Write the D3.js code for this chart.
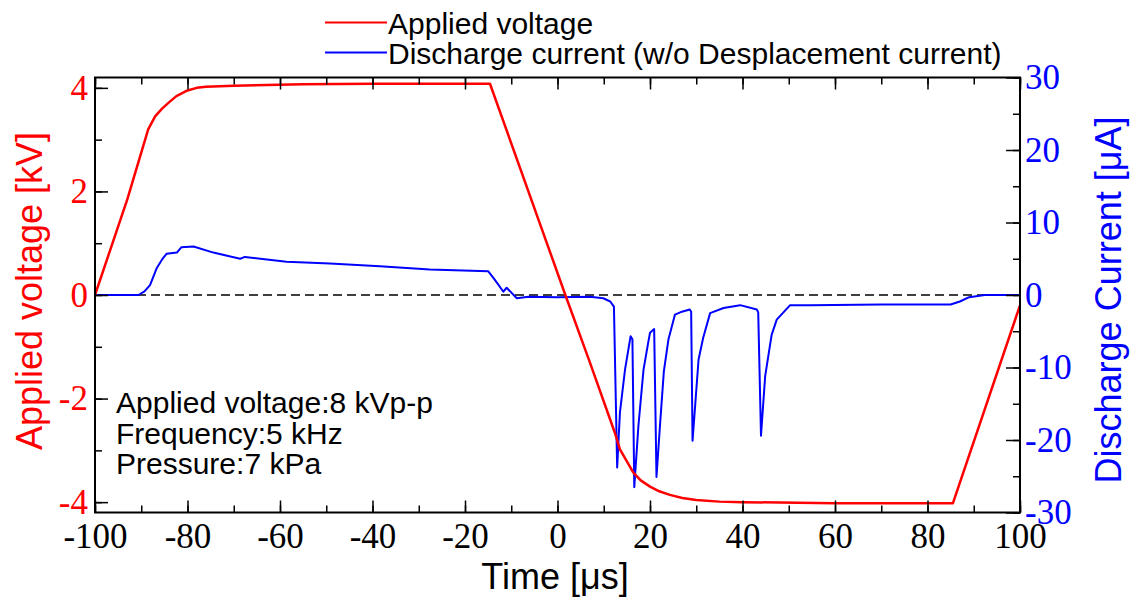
<!DOCTYPE html>
<html>
<head>
<meta charset="utf-8">
<script src="https://cdn.jsdelivr.net/npm/d3@7"></script>
<style>
  body { margin: 0; background: #fff; }
  svg { display: block; }
</style>
</head>
<body>
<svg id="chart"></svg>
<script>
// time axis ticks
const timeTicks = [-100, -80, -60, -40, -20, 0, 20, 40, 60, 80, 100];
const voltTicks = [-4, -2, 0, 2, 4];
const currTicks = [-30, -20, -10, 0, 10, 20, 30];

// applied voltage [kV] vs time [us]
const voltTime = [-100, -93, -90, -88.5, -87, -85.5, -84, -82.4, -80, -78, -76, -70, -55, -40, -14.6, 1.7, 7, 12.4, 13.5, 16.4, 18, 20, 22, 24.3, 27, 30, 35, 40, 60, 85.5, 100];
const voltValue = [0, 1.85, 2.75, 3.2, 3.45, 3.6, 3.72, 3.84, 3.95, 4.0, 4.02, 4.04, 4.07, 4.08, 4.08, 0, -1.3, -2.66, -2.98, -3.43, -3.58, -3.7, -3.79, -3.86, -3.92, -3.96, -3.99, -4.0, -4.02, -4.02, -0.2];

// discharge current [uA] vs time [us]
const currTime = [-100, -90.6, -89.3, -88.1, -86.7, -85.5, -84.5, -82.3, -81.3, -78.7, -74.4, -68.6, -67.6, -58.6, -49.2, -38.4, -27.6, -15, -13.5, -11.7, -11.0, -8.8, -6.3, 0, 7, 9.9, 11.4, 12.2, 12.9, 13.5, 14.6, 15.8, 16.2, 16.6, 17.5, 18.6, 19.6, 20.0, 20.9, 21.4, 22.2, 23.0, 24.0, 25.4, 26.9, 28.6, 28.9, 29.2, 30.5, 31.5, 33.0, 35.9, 39.5, 43.1, 43.4, 44.0, 44.9, 46.3, 47.4, 50.3, 54.6, 70, 85, 87, 89, 92.4, 100];
const currValue = [0, 0, 0.5, 1.37, 3.65, 4.9, 5.7, 5.85, 6.6, 6.7, 5.85, 5.0, 5.25, 4.57, 4.34, 3.97, 3.52, 3.29, 2.06, 0.45, 1.0, -0.45, -0.23, -0.3, -0.23, -0.45, -0.9, -1.6, -23.8, -16.2, -10.3, -5.7, -6.1, -26.5, -18, -10.3, -6.6, -5.2, -4.7, -25.1, -17.6, -10.5, -6.1, -2.7, -2.3, -2.0, -2.3, -20.1, -8.9, -5.9, -2.5, -1.8, -1.4, -2.0, -2.4, -19.4, -11.2, -5.5, -3.4, -1.4, -1.4, -1.3, -1.3, -0.9, -0.3, 0, 0];

const legendLabels = ["Applied voltage", "Discharge current (w/o Desplacement current)"];
const noteLines = ["Applied voltage:8 kVp-p", "Frequency:5 kHz", "Pressure:7 kPa"];

const W = 1130, H = 604;
const margin = { top: 77.5, right: 110, bottom: 91.5, left: 95 };
const width = W - margin.left - margin.right;
const height = H - margin.top - margin.bottom;

const sans = "Arial, 'Liberation Sans', sans-serif";
const serif = "'Times New Roman', 'Liberation Serif', serif";

const svg = d3.select("#chart").attr("width", W).attr("height", H);
const g = svg.append("g").attr("transform", `translate(${margin.left},${margin.top})`);

const x = d3.scaleLinear().domain([-100, 100]).range([0, width]);
const yV = d3.scaleLinear().domain([-4.2, 4.2]).range([height, 0]);
const yI = d3.scaleLinear().domain([-30, 30]).range([height, 0]);

// zero line
g.append("line")
    .attr("x1", 0).attr("x2", width)
    .attr("y1", yV(0)).attr("y2", yV(0))
    .attr("stroke", "#000").attr("stroke-width", 1.5)
    .attr("stroke-dasharray", "9,5");

// curves
const voltData = voltTime.map((t, i) => [t, voltValue[i]]);
const currData = currTime.map((t, i) => [t, currValue[i]]);

g.append("path")
    .datum(currData)
    .attr("fill", "none").attr("stroke", "#0000ff").attr("stroke-width", 2)
    .attr("stroke-linejoin", "round")
    .attr("d", d3.line().x(d => x(d[0])).y(d => yI(d[1])));

g.append("path")
    .datum(voltData)
    .attr("fill", "none").attr("stroke", "#ff0000").attr("stroke-width", 2.5)
    .attr("stroke-linejoin", "round")
    .attr("d", d3.line().x(d => x(d[0])).y(d => yV(d[1])));

// axes: ticks point inward, labels use plain hyphen
const fmt = d => String(d);
function styleAxis(sel, color) {
    sel.select(".domain").remove();
    sel.selectAll(".tick line").attr("stroke", "#000").attr("stroke-width", 1.5);
    sel.selectAll(".tick text").attr("fill", color)
        .style("font-family", serif).style("font-size", "35px");
}

const xMinor = d3.range(-100, 101, 10);

g.append("g").attr("transform", `translate(0,${height})`)
    .call(d3.axisBottom(x).tickValues(timeTicks).tickSize(-12).tickPadding(11).tickFormat(fmt))
    .call(s => styleAxis(s, "#000"));
g.append("g").attr("transform", `translate(0,${height})`)
    .call(d3.axisBottom(x).tickValues(xMinor).tickSize(-7).tickFormat(""))
    .call(s => styleAxis(s, "#000"));

g.append("g")
    .call(d3.axisTop(x).tickValues(timeTicks).tickSize(-12).tickFormat(""))
    .call(s => styleAxis(s, "#000"));
g.append("g")
    .call(d3.axisTop(x).tickValues(xMinor).tickSize(-7).tickFormat(""))
    .call(s => styleAxis(s, "#000"));

g.append("g")
    .call(d3.axisLeft(yV).tickValues(voltTicks).tickSize(-13).tickPadding(7).tickFormat(fmt))
    .call(s => styleAxis(s, "#ff0000"));
g.append("g")
    .call(d3.axisLeft(yV).tickValues(d3.range(-4, 5, 1)).tickSize(-7).tickFormat(""))
    .call(s => styleAxis(s, "#000"));

g.append("g").attr("transform", `translate(${width},0)`)
    .call(d3.axisRight(yI).tickValues(currTicks).tickSize(-14).tickPadding(5).tickFormat(fmt))
    .call(s => styleAxis(s, "#0000ff"));
g.append("g").attr("transform", `translate(${width},0)`)
    .call(d3.axisRight(yI).tickValues(d3.range(-30, 31, 5)).tickSize(-7).tickFormat(""))
    .call(s => styleAxis(s, "#000"));

// frame
g.append("rect")
    .attr("width", width).attr("height", height)
    .attr("fill", "none").attr("stroke", "#000").attr("stroke-width", 2);

// axis titles
svg.append("text")
    .attr("transform", `translate(42,${margin.top + height / 2 - 4}) rotate(-90)`)
    .attr("text-anchor", "middle")
    .attr("fill", "#ff0000")
    .style("font-family", sans).style("font-size", "36px")
    .text("Applied voltage [kV]");

svg.append("text")
    .attr("transform", `translate(1121,${margin.top + height / 2 + 5}) rotate(-90)`)
    .attr("text-anchor", "middle")
    .attr("fill", "#0000ff")
    .style("font-family", sans).style("font-size", "36px")
    .text("Discharge Current [\u03bcA]");

svg.append("text")
    .attr("x", 555).attr("y", 589)
    .attr("text-anchor", "middle")
    .attr("fill", "#000")
    .style("font-family", sans).style("font-size", "36px")
    .text("Time [\u03bcs]");

// legend
const legendColors = ["#ff0000", "#0000ff"];
legendLabels.forEach((label, i) => {
    const ly = 22.5 + i * 30;
    svg.append("line")
        .attr("x1", 325).attr("x2", 387)
        .attr("y1", ly).attr("y2", ly)
        .attr("stroke", legendColors[i]).attr("stroke-width", 2);
    svg.append("text")
        .attr("x", 388).attr("y", ly + 11)
        .attr("fill", "#000")
        .style("font-family", sans).style("font-size", "30px")
        .text(label);
});

// conditions note
noteLines.forEach((line, i) => {
    svg.append("text")
        .attr("x", 116).attr("y", 413 + i * 30.5)
        .attr("fill", "#000")
        .style("font-family", sans).style("font-size", "30px")
        .text(line);
});
</script>
</body>
</html>
